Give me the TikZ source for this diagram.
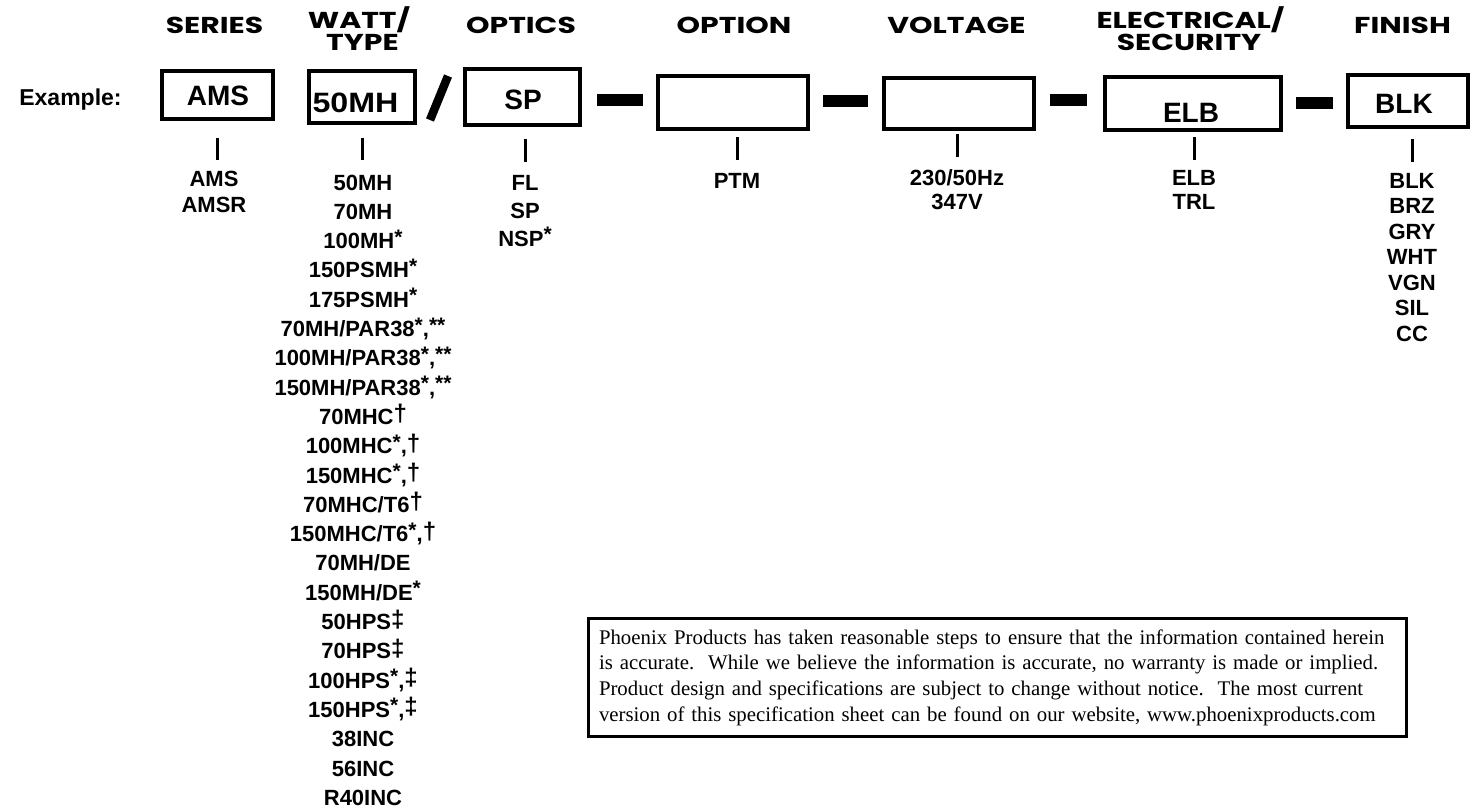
\documentclass[tikz,border=0pt]{standalone}
\usepackage{fontspec}
\setmainfont{Liberation Sans}
\newfontfamily\hfont{Poppins}[FakeStretch=1.3]
\newfontfamily\discfont{Liberation Serif}
\usetikzlibrary{calc}
\newcommand\myst{\raisebox{4.5pt}{\fontsize{21}{21}\selectfont *}}
\newcommand\mystt{\raisebox{4.5pt}{\fontsize{21}{21}\selectfont **}}
\newcommand\mydag{\raisebox{2.5pt}{\fontsize{24}{24}\selectfont \char"2020}}
\newcommand\myddag{\raisebox{2.5pt}{\fontsize{24}{24}\selectfont \char"2021}}
\tikzset{
  hdr/.style={font=\hfont\bfseries\fontsize{23}{23}\selectfont, anchor=base, inner sep=0pt},
  codebox/.style={draw, line width=4pt, inner sep=0pt},
  boxtxt/.style={font=\bfseries\fontsize{28}{28}\selectfont, inner sep=0pt},
  lst/.style={font=\bfseries\fontsize{22}{22}\selectfont, inner sep=0pt, anchor=base},
  tickline/.style={line width=3pt},
  sepbar/.style={line width=12pt},
}
\begin{document}
\begin{tikzpicture}[x=1pt,y=-1pt]
\useasboundingbox (0,0) rectangle (1477,809);
% headers
\node[hdr] (hser) at (214.5,33) {SERIES};
\node[hdr] (hwatt) at (359,28) {WATT/};
\node[hdr] (htype) at (362.5,50) {TYPE};
\node[hdr] (hopt) at (521,33) {OPTICS};
\node[hdr] (hoption) at (734,33) {OPTION};
\node[hdr] (hvolt) at (956.5,33) {VOLTAGE};
\node[hdr] (helec) at (1190.5,28) {ELECTRICAL/};
\node[hdr] (hsec) at (1189,50) {SECURITY};
\node[hdr] (hfin) at (1402.5,33) {FINISH};
% example
\node[font=\bfseries\fontsize{23}{23}\selectfont, anchor=base, inner sep=0pt] (ex) at (70.5,105) {Example:};
% boxes
\node[codebox, minimum width=111pt, minimum height=48pt] (ams) at (217.5,95) {};
\node[codebox, minimum width=106pt, minimum height=52pt] (w) at (362,97) {};
\node[codebox, minimum width=115pt, minimum height=56pt] (sp) at (522.5,97) {};
\node[codebox, minimum width=150pt, minimum height=53pt] (opt) at (733,102.5) {};
\node[codebox, minimum width=150pt, minimum height=51pt] (volt) at (959,103.5) {};
\node[codebox, minimum width=176pt, minimum height=53pt] (elb) at (1193,103.5) {};
\node[codebox, minimum width=120pt, minimum height=52pt] (blk) at (1408,101) {};
% box texts
\node[boxtxt] (tams) at (218,96) {AMS};
\node[boxtxt] (tw) at (355.5,103) {\scalebox{1.15}[1]{50MH}};
\node[boxtxt] (tsp) at (523,100) {SP};
\node[boxtxt] (telb) at (1191,113) {ELB};
\node[boxtxt] (tblk) at (1404,104) {BLK};
% slash and separators
\draw[line width=8.5pt] (430,120) -- (448,76);
\draw[sepbar] (597,100) -- (643,100);
\draw[sepbar] (823,101) -- (868,101);
\draw[sepbar] (1050,100) -- (1087,100);
\draw[sepbar] (1296,103) -- (1333,103);
% ticks
\draw[tickline] (ams.south |- 0,138) -- (ams.south |- 0,160);
\draw[tickline] (w.south |- 0,138) -- (w.south |- 0,160);
\draw[tickline] (525,139) -- (525,162);
\draw[tickline] (737,137) -- (737,160);
\draw[tickline] (957,134) -- (957,157);
\draw[tickline] (1194,137) -- (1194,160);
\draw[tickline] (1412,139) -- (1412,162);
% lists
\foreach \t [count=\i] in {AMS, AMSR}
  \node[lst] (a\i) at (214,{186+26*(\i-1)}) {\t};
\foreach \t [count=\i] in {50MH, 70MH, 100MH\myst, 150PSMH\myst, 175PSMH\myst,
  {70MH/PAR38\myst,\mystt}, {100MH/PAR38\myst,\mystt}, {150MH/PAR38\myst,\mystt},
  70MHC\mydag, {100MHC\myst,\mydag}, {150MHC\myst,\mydag}, 70MHC/T6\mydag,
  {150MHC/T6\myst,\mydag}, 70MH/DE, 150MH/DE\myst, 50HPS\myddag, 70HPS\myddag,
  {100HPS\myst,\myddag}, {150HPS\myst,\myddag}, 38INC, 56INC, R40INC}
  \node[lst] (l\i) at (363,{190+29.3*(\i-1)}) {\t};
\foreach \t [count=\i] in {FL, SP, NSP\myst}
  \node[lst] (o\i) at (525,{190+28*(\i-1)}) {\t};
\node[lst] (p1) at (737,188) {PTM};
\foreach \t [count=\i] in {230/50Hz, 347V}
  \node[lst] (v\i) at (957,{185+24*(\i-1)}) {\t};
\foreach \t [count=\i] in {ELB, TRL}
  \node[lst] (e\i) at (1194,{185+24*(\i-1)}) {\t};
\foreach \t [count=\i] in {BLK, BRZ, GRY, WHT, VGN, SIL, CC}
  \node[lst] (f\i) at (1412,{188+25.5*(\i-1)}) {\t};
% disclaimer
\node[draw, line width=3pt, minimum width=818pt, minimum height=118pt, text width=797pt,
  align=left, inner sep=0pt, font=\discfont\frenchspacing\fontsize{20.8}{25.7}\selectfont] (disc) at (997.5,677.5)
  {Phoenix Products has taken reasonable steps to ensure that the information contained herein\\
   is accurate.\ \ While we believe the information is accurate, no warranty is made or implied.\\
   Product design and specifications are subject to change without notice.\ \ The most current\\
   version of this specification sheet can be found on our website, www.phoenixproducts.com};
\end{tikzpicture}
\end{document}
